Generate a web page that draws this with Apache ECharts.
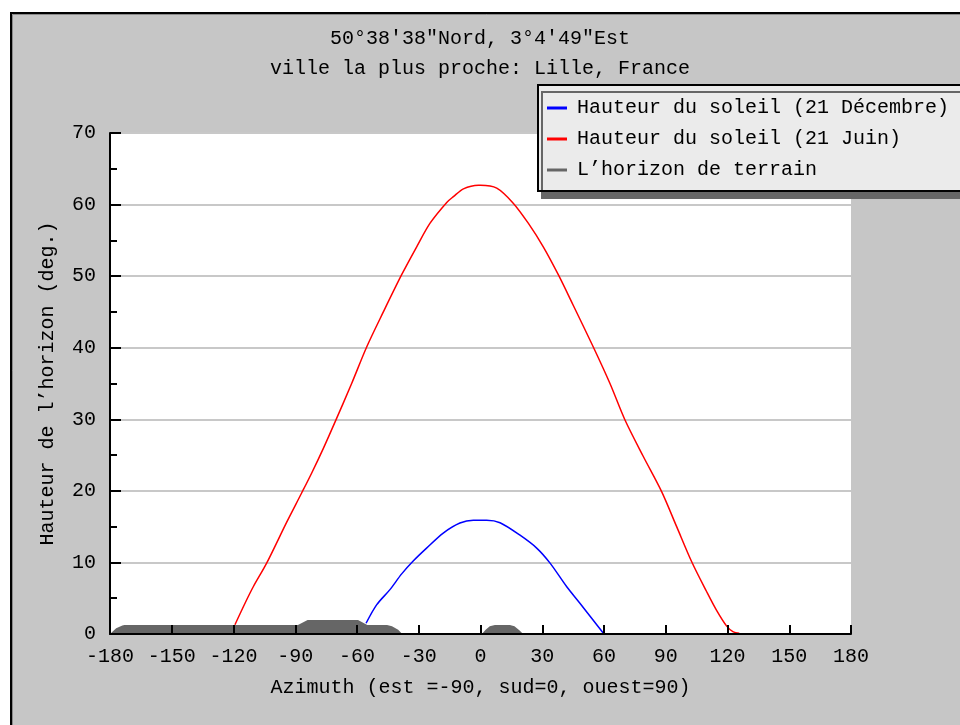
<!DOCTYPE html>
<html>
<head>
<meta charset="utf-8">
<script src="https://cdn.jsdelivr.net/npm/echarts@6/dist/echarts.min.js"></script>
<style>
  html, body { margin: 0; padding: 0; background: #fff; }
  #chart { width: 960px; height: 725px; }
</style>
</head>
<body>
<div id="chart"></div>
<script>
// azimuth (deg), altitude (deg)
const decembre = [
  [-55.6, 1.5], [-50.4, 4.1], [-44.0, 6.2], [-38.3, 8.4], [-32.7, 10.2], [-26.2, 12.0],
  [-18.1, 14.1], [-10.0, 15.5], [-3.5, 15.9], [3.0, 15.9], [9.5, 15.55], [19.2, 13.8],
  [27.3, 12.0], [33.8, 9.9], [41.9, 6.6], [48.3, 4.3], [59.7, 0.1]
]
const juin = [
  [-119.3, 1.3], [-114.4, 4.3], [-110.4, 6.6], [-103.9, 9.9], [-94.2, 15.6], [-86.9, 19.7],
  [-82.0, 22.5], [-76.4, 25.9], [-70.7, 29.6], [-62.6, 35.0], [-55.3, 40.1], [-47.2, 45.0],
  [-38.3, 50.2], [-31.0, 54.1], [-24.5, 57.4], [-16.4, 60.3], [-13.2, 61.1], [-8.3, 62.2],
  [-1.0, 62.7], [0, 62.7], [7.9, 62.3], [15.9, 60.2], [23.2, 57.4], [30.5, 54.1], [37.8, 50.2],
  [45.1, 45.9], [54.8, 40.1], [62.9, 35.0], [70.2, 29.9], [79.1, 24.8], [88.0, 19.9],
  [95.3, 15.0], [102.6, 10.1], [109.9, 5.9], [114.7, 3.3], [119.6, 1.1], [122.8, 0.3], [125.7, 0.1]
]
const terrain = [
  [-180, 0], [-179.5, 0], [-177, 0.8], [-174, 1.2], [-173, 1.26], [-88.7, 1.26], [-84, 1.96],
  [-59.5, 1.96], [-55, 1.26], [-45.4, 1.26], [-43, 1.1], [-40, 0.6], [-38, 0], [0.7, 0],
  [2.5, 0.6], [4.5, 1.1], [7, 1.26], [14.3, 1.26], [16.5, 1.1], [19, 0.5], [20.7, 0], [180, 0]
]
const titles = ['50°38′38"Nord, 3°4′49"Est', 'ville la plus proche: Lille, France']
const names = ['Hauteur du soleil (21 Décembre)', 'Hauteur du soleil (21 Juin)', 'L’horizon de terrain']

const font = 'Liberation Mono'
const chart = echarts.init(document.getElementById('chart'))
chart.setOption({
  backgroundColor: '#fff',
  animation: false,
  textStyle: { fontFamily: font },
  graphic: [
    {
      type: 'rect', z: -10,
      shape: { x: 11, y: 13, width: 960, height: 725 },
      style: { fill: '#c6c6c6', stroke: '#000', lineWidth: 2 }
    },
    {
      type: 'rect', z: -9,
      shape: { x: 12.5, y: 14.5, width: 960, height: 725 },
      style: { fill: 'none', stroke: '#8a8a8a', lineWidth: 1 }
    }
  ],
  title: {
    text: titles.join('\n'),
    left: 'center',
    top: 24,
    padding: 0,
    textStyle: { fontFamily: font, fontSize: 20, fontWeight: 'normal', color: '#000', lineHeight: 30 }
  },
  legend: {
    orient: 'vertical',
    left: 538,
    top: 85,
    padding: [13, 24, 11, 9],
    backgroundColor: '#ebebeb',
    borderColor: '#000',
    borderWidth: 2,
    borderRadius: 0,
    shadowColor: '#666',
    shadowBlur: 0,
    shadowOffsetX: 4,
    shadowOffsetY: 7,
    icon: 'rect',
    itemWidth: 20,
    itemHeight: 3,
    itemGap: 11,
    data: names,
    textStyle: { fontFamily: font, fontSize: 20, color: '#000', lineHeight: 20, padding: [0, 0, 0, 5] }
  },
  grid: {
    left: 110, right: 109, top: 133, bottom: 91,
    show: true, backgroundColor: '#fff', borderWidth: 0
  },
  xAxis: {
    type: 'value',
    min: -180, max: 180, interval: 30,
    z: 5,
    name: 'Azimuth (est =-90, sud=0, ouest=90)',
    nameLocation: 'middle',
    nameGap: 44,
    nameTextStyle: { fontFamily: font, fontSize: 20, color: '#000' },
    axisLine: { onZero: false, lineStyle: { color: '#000', width: 2 } },
    axisTick: { inside: true, length: 9, lineStyle: { color: '#000', width: 2 } },
    axisLabel: { margin: 13, fontFamily: font, fontSize: 20, color: '#000' },
    splitLine: { show: false }
  },
  yAxis: {
    type: 'value',
    min: 0, max: 70, interval: 10,
    name: 'Hauteur de l’horizon (deg.)',
    nameLocation: 'middle',
    nameGap: 52,
    nameTextStyle: { fontFamily: font, fontSize: 20, color: '#000' },
    axisLine: { show: true, onZero: false, lineStyle: { color: '#000', width: 2 } },
    axisTick: { show: true, inside: true, length: 11, lineStyle: { color: '#000', width: 2 } },
    minorTick: { show: true, splitNumber: 2, length: 7, lineStyle: { color: '#000', width: 2 } },
    axisLabel: { margin: 14, fontFamily: font, fontSize: 20, color: '#000' },
    splitLine: { show: true, lineStyle: { color: '#c8c8c8', width: 2 } }
  },
  series: [
    {
      name: names[0], type: 'line', data: decembre, showSymbol: false,
      smooth: 0.3,
      color: '#0000ff', lineStyle: { width: 1.5 }, z: 3
    },
    {
      name: names[1], type: 'line', data: juin, showSymbol: false,
      smooth: 0.3,
      color: '#ff0000', lineStyle: { width: 1.5 }, z: 3
    },
    {
      name: names[2], type: 'line', data: terrain, showSymbol: false,
      color: '#666666', lineStyle: { width: 0 }, areaStyle: { color: '#666666', opacity: 1 }, z: 2
    }
  ]
})
</script>
</body>
</html>
